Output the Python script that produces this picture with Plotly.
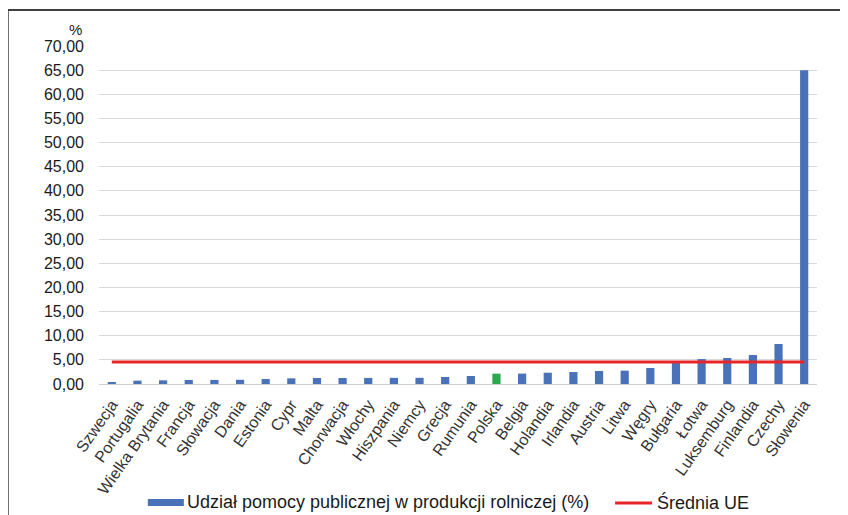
import plotly.graph_objects as go

countries = ["Szwecja", "Portugalia", "Wielka Brytania", "Francja", "Słowacja", "Dania",
             "Estonia", "Cypr", "Malta", "Chorwacja", "Włochy", "Hiszpania", "Niemcy",
             "Grecja", "Rumunia", "Polska", "Belgia", "Holandia", "Irlandia", "Austria",
             "Litwa", "Węgry", "Bułgaria", "Łotwa", "Luksemburg", "Finlandia", "Czechy",
             "Słowenia"]
shares = [0.42, 0.70, 0.76, 0.83, 0.85, 0.88, 1.03, 1.17, 1.24, 1.25, 1.26, 1.27, 1.28,
          1.45, 1.66, 2.14, 2.15, 2.34, 2.48, 2.69, 2.76, 3.31, 4.48, 5.17, 5.38, 6.00,
          8.28, 65.0]
eu_avg = 4.55
highlight = "Polska"

bar_name = "Udział pomocy publicznej w produkcji rolniczej (%)"
line_name = "Średnia UE"
y_ticks = [0, 5, 10, 15, 20, 25, 30, 35, 40, 45, 50, 55, 60, 65, 70]

BLUE = "#4a72b8"
GREEN = "#2ea84f"
RED = "#e8262a"

colors = [GREEN if c == highlight else BLUE for c in countries]

fig = go.Figure()
fig.add_trace(go.Bar(x=countries, y=shares, name=bar_name, marker_color=colors,
                     marker_line_width=0, showlegend=False))
fig.add_trace(go.Scatter(x=countries, y=[eu_avg] * len(countries), name=line_name,
                         mode="lines", line=dict(color=RED, width=3), showlegend=False))

# page has an 8px body margin; layout numbers below are in page pixels
OFF = 8
W, H = 848, 515
L, R, T, B = 91.2, 39.2, 38, 139
pw, ph = W - L - R, H - T - B

def px_x(p):
    return (p - OFF - L) / pw

def px_y(p):
    return (H - B - (p - OFF)) / ph

FONT = "Liberation Sans, Arial, sans-serif"

fig.update_layout(
    width=W, height=H,
    margin=dict(l=L, r=R, t=T, b=B, autoexpand=False),
    paper_bgcolor="white", plot_bgcolor="white",
    separators=", ",
    bargap=0.68,
    showlegend=False,
    font=dict(family=FONT, size=16, color="#1a1a1a"),
    xaxis=dict(showgrid=False, showline=True, linecolor="#d0d0d0", linewidth=1,
               tickangle=-55, ticks="", tickfont=dict(size=16, color="#333333"),
               ticklabelstandoff=4),
    yaxis=dict(range=[0, 70], tickvals=y_ticks, tickformat=".2f", showgrid=True,
               gridcolor="#d9d9d9", gridwidth=1, zeroline=False, showline=False,
               ticks="", tickfont=dict(size=16, color="#1a1a1a"), ticklabelstandoff=14),
    annotations=[
        dict(text="%", xref="paper", yref="paper", x=px_x(75.5), y=px_y(29.5),
             xanchor="center", yanchor="middle", showarrow=False, font=dict(size=15)),
        dict(text=bar_name, xref="paper", yref="paper", x=px_x(185), y=px_y(502),
             xanchor="left", yanchor="middle", showarrow=False, font=dict(size=18)),
        dict(text=line_name, xref="paper", yref="paper", x=px_x(655), y=px_y(502),
             xanchor="left", yanchor="middle", showarrow=False, font=dict(size=18)),
    ],
    shapes=[
        dict(type="line", xref="paper", yref="paper", x0=px_x(8), x1=px_x(856),
             y0=px_y(10), y1=px_y(10), line=dict(color="#404040", width=2)),
        dict(type="line", xref="paper", yref="paper", x0=px_x(8), x1=px_x(8),
             y0=px_y(10), y1=px_y(523), line=dict(color="#404040", width=2)),
        # legend keys
        dict(type="rect", xref="paper", yref="paper", x0=px_x(148), x1=px_x(184),
             y0=px_y(499), y1=px_y(506), fillcolor=BLUE, line=dict(width=0)),
        dict(type="line", xref="paper", yref="paper", x0=px_x(615), x1=px_x(652),
             y0=px_y(503), y1=px_y(503), line=dict(color=RED, width=3)),
    ],
)

fig.write_html("out.html")
